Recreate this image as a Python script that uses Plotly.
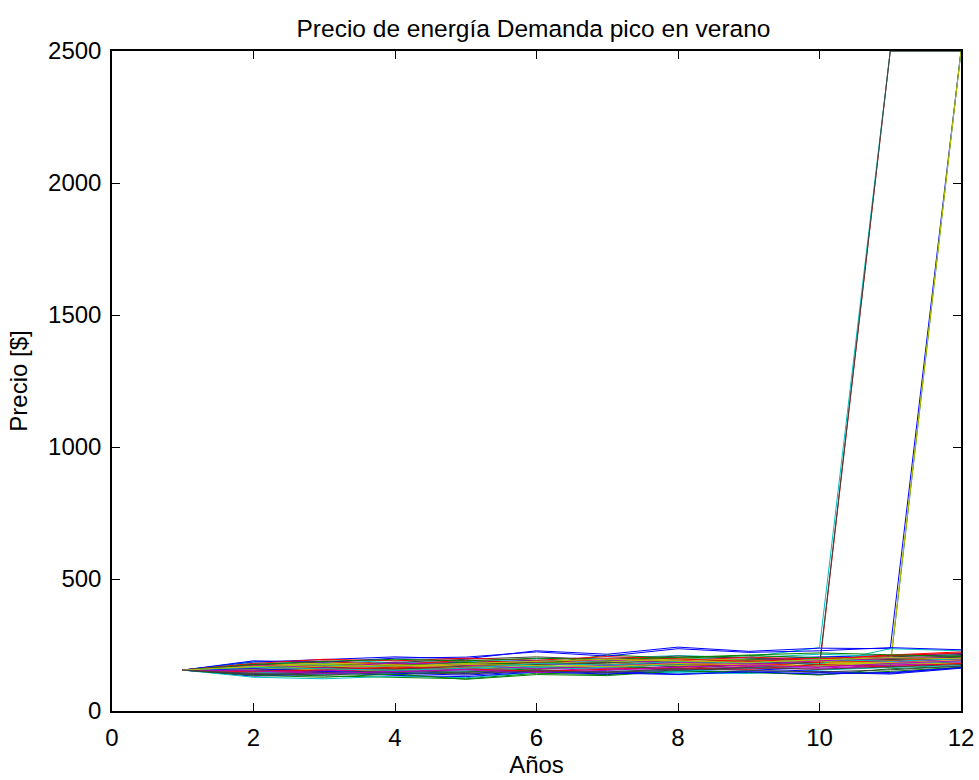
import plotly.graph_objects as go

# Simulated energy price paths (peak summer demand), one row per path
years = [1, 2, 3, 4, 5, 6, 7, 8, 9, 10, 11, 12]

paths = [
    [155, 162, 170, 178, 185, 192, 188, 200, 195, 205, 210, 218],
    [155, 140, 133, 128, 122, 143, 138, 150, 148, 136, 160, 170],
    [155, 175, 190, 180, 188, 176, 185, 172, 180, 190, 182, 198],
    [155, 188, 180, 192, 186, 198, 200, 210, 202, 215, 206, 212],
    [155, 150, 158, 146, 160, 168, 156, 170, 165, 158, 172, 180],
    [155, 165, 155, 170, 162, 174, 182, 190, 184, 178, 192, 200],
    [155, 145, 152, 160, 150, 164, 170, 160, 175, 168, 178, 186],
    [155, 132, 140, 150, 142, 155, 148, 140, 152, 145, 140, 162],
    [155, 170, 162, 175, 180, 170, 190, 185, 196, 188, 200, 195],
    [155, 158, 166, 160, 172, 180, 175, 188, 182, 165, 2500, 2500],
    [155, 168, 175, 185, 178, 190, 184, 196, 205, 240, 2500, 2500],
    [155, 178, 170, 164, 176, 185, 194, 182, 190, 200, 195, 206],
    [155, 142, 148, 156, 165, 158, 166, 175, 170, 182, 176, 190],
    [155, 160, 172, 184, 196, 205, 195, 208, 200, 192, 205, 214],
    [155, 185, 195, 205, 198, 228, 215, 242, 226, 238, 236, 2500],
    [155, 150, 144, 138, 148, 160, 168, 158, 166, 175, 170, 2500],
    [155, 172, 186, 176, 192, 182, 198, 190, 204, 196, 212, 224],
    [155, 128, 122, 132, 126, 146, 152, 145, 142, 155, 165, 172],
    [155, 163, 158, 170, 166, 178, 172, 186, 180, 192, 186, 196],
    [155, 147, 160, 152, 170, 164, 178, 172, 188, 180, 178, 2500],
    [155, 176, 168, 180, 172, 186, 178, 168, 176, 186, 194, 204],
    [155, 138, 146, 135, 130, 148, 140, 152, 160, 150, 143, 165],
    [155, 166, 178, 170, 184, 176, 212, 200, 210, 202, 198, 210],
    [155, 156, 150, 162, 156, 168, 162, 178, 170, 184, 190, 200],
    [155, 182, 174, 166, 158, 170, 164, 176, 186, 178, 236, 228],
    [155, 144, 154, 148, 158, 152, 162, 156, 168, 162, 174, 182],
    [155, 170, 182, 174, 168, 180, 186, 198, 192, 186, 182, 192],
    [155, 152, 164, 158, 170, 176, 184, 178, 190, 175, 2500, 2500],
    [155, 190, 185, 200, 204, 224, 208, 236, 222, 228, 240, 232],
    [155, 135, 128, 140, 120, 138, 134, 152, 146, 138, 150, 166],
    [155, 180, 196, 190, 200, 192, 206, 196, 188, 198, 208, 220],
    [155, 146, 138, 145, 152, 165, 158, 150, 162, 170, 180, 188],
    [155, 174, 166, 182, 174, 160, 170, 182, 176, 190, 200, 208],
    [155, 158, 170, 164, 176, 172, 168, 180, 174, 170, 184, 178],
    [155, 137, 145, 154, 146, 156, 148, 160, 154, 148, 156, 170],
    [155, 160, 150, 144, 136, 150, 145, 138, 148, 140, 146, 164],
    [155, 176, 188, 196, 190, 200, 194, 204, 212, 220, 214, 206],
    [155, 148, 156, 166, 160, 150, 158, 164, 158, 176, 168, 180],
    [155, 165, 160, 154, 162, 180, 174, 188, 182, 196, 188, 198],
    [155, 152, 142, 150, 156, 146, 154, 166, 174, 166, 180, 190],
    [155, 168, 176, 170, 180, 188, 196, 190, 184, 194, 202, 198],
    [155, 142, 136, 146, 140, 152, 146, 155, 164, 158, 166, 176],
]

# Classic MATLAB line colour order
line_colors = ["#0000FF", "#008000", "#FF0000", "#00BFBF", "#BF00BF", "#BFBF00", "#404040"]

x_ticks = [0, 2, 4, 6, 8, 10, 12]
y_ticks = [0, 500, 1000, 1500, 2000, 2500]

fig = go.Figure()
for i, p in enumerate(paths):
    fig.add_trace(go.Scatter(
        x=years, y=p, mode="lines",
        line=dict(color=line_colors[i % len(line_colors)], width=1),
        showlegend=False, hoverinfo="skip",
    ))

font = dict(family="Liberation Sans, Arial, sans-serif", size=24, color="black")

fig.update_layout(
    width=979, height=780,
    margin=dict(l=112, r=18, t=51, b=69),
    paper_bgcolor="white", plot_bgcolor="white",
    font=font,
    title=dict(text="Precio de energía Demanda pico en verano",
               x=533.5 / 979, xanchor="center", xref="container",
               y=1 - 28 / 780, yanchor="middle", yref="container",
               font=dict(size=24.5)),
    xaxis=dict(
        range=[0, 12], tickvals=x_ticks, ticks="inside", ticklen=8, tickcolor="black",
        showline=True, linecolor="black", linewidth=1.5, mirror="ticks",
        showgrid=False, zeroline=False, tickfont=dict(size=24),
        ticklabelstandoff=4, automargin=False,
        title=dict(text="Años", standoff=2, font=dict(size=24)),
    ),
    yaxis=dict(
        range=[0, 2500], tickvals=y_ticks, ticks="inside", ticklen=8, tickcolor="black",
        showline=True, linecolor="black", linewidth=1.5, mirror="ticks",
        showgrid=False, zeroline=False, tickfont=dict(size=24),
        ticklabelstandoff=4, automargin=False,
        title=dict(text="Precio [$]", standoff=14, font=dict(size=24)),
    ),
)

fig.write_html("out.html")
